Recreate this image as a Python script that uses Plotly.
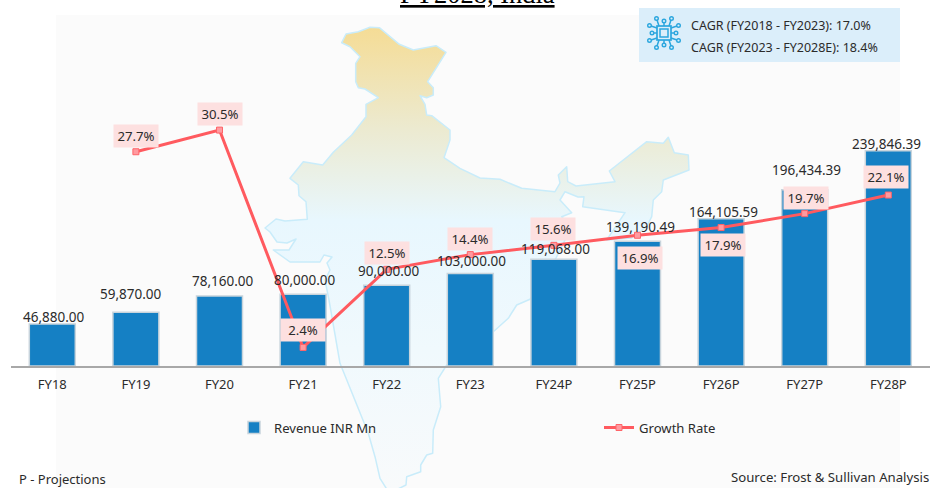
import base64
import plotly.graph_objects as go

categories = ["FY18", "FY19", "FY20", "FY21", "FY22", "FY23", "FY24P", "FY25P", "FY26P", "FY27P", "FY28P"]
revenue = [46880.00, 59870.00, 78160.00, 80000.00, 90000.00, 103000.00, 119068.00, 139190.49, 164105.59, 196434.39, 239846.39]
growth = [None, 27.7, 30.5, 2.4, 12.5, 14.4, 15.6, 16.9, 17.9, 19.7, 22.1]
cagr_lines = ["CAGR (FY2018 - FY2023): 17.0%", "CAGR (FY2023 - FY2028E): 18.4%"]

# label placement relative to each mark, in pixels (dx, dy up)
rev_offsets = [(2, 7), (-5, 18), (3, 15), (2, 14), (2, 14), (1, 13), (2, 10), (3, 14), (2, 7), (2, 20), (-2, 7)]
gr_offsets = [None, (0, 16), (0, 16), (0, 17), (0, 16), (0, 16), (-1, 16), (2, -23), (2, -17), (1, 16), (-2, 18.5)]

W, H = 931, 488
BASE_Y, TOP_Y = 366, 60
LEFT, RIGHT = 10.5, 930.1

india = [(341.7,42.7),(346,34),(358.3,31.7),(370,27.3),(379.3,27.7),(399.3,44.3),(413.3,50),(436,45.7),(446,52.3),
 (427.7,81.7),(433.3,87.7),(433.3,95),(426.7,97.7),(420,95.7),(425,104.3),(426.7,115),(431.7,115.7),(450,130),(450,140),
 (444,157.7),(450,161.7),(460,168.3),(480,178),(500,179.3),(521.7,188.3),(555,191.7),(560,183),(558.3,175),(566.7,166.7),
 (567.7,181.7),(576,186),(615,181.7),(609.3,171),(646.7,141.7),(663.3,143.3),(668.3,137.3),(674.3,152.7),(688.3,155),
 (689,170),(663.3,180),(661.7,191.7),(653.3,200),(651.7,216.7),(646.7,226.7),(631.7,238),(606.7,240),(625,212.7),
 (582.7,206.7),(584,196.7),(578,197),(565,191.7),(560,200),(571.7,212.7),(561.7,216.7),(571.7,226.7),(550,270),(530,299.3),
 (516.7,305),(508.3,318.3),(493.3,331.7),(446.7,365),(438.3,378.3),(440.7,406.7),(433.3,430),(432.7,453.3),(426.7,455),
 (420.7,465),(420.7,471.7),(406.7,476.7),(406,485),(398,489),(386.7,489),(380,478.3),(375,456.7),(368.3,433.3),(340,363.3),
 (329,300),(325,280),(330,270),(327,263),(332,257),(324,255),(320,262),(290,262),(273.3,250),(289,250),(296,239),(287,243),
 (277,242),(270,232),(265,228),(276,219),(285,221),(307.3,219.3),(306,201.7),(299,195.7),(298.3,185),(290,178.3),(303.3,161.7),
 (322.7,165),(333.3,152.3),(351.7,135),(366,116.7),(366,104.3),(378.3,97.7),(365,89),(358.3,87.7),(355.7,81.7),(355.7,63.3),
 (360,56.7),(350,46.7)]
pts = " ".join(f"{a},{b}" for a, b in india)
bg_svg = f'''<svg xmlns="http://www.w3.org/2000/svg" width="{W}" height="{H}" viewBox="0 0 {W} {H}">
<defs><linearGradient id="g" gradientUnits="userSpaceOnUse" x1="0" y1="27" x2="0" y2="488">
<stop offset="0" stop-color="#f5dc95"/><stop offset="0.22" stop-color="#ecead0"/><stop offset="0.42" stop-color="#e8f7fe"/>
<stop offset="0.7" stop-color="#f0f9fd"/><stop offset="1" stop-color="#f8fafb"/></linearGradient></defs>
<rect x="56" y="15" width="844" height="473" fill="#fbfbfb"/>
<polygon points="{pts}" fill="url(#g)" stroke="#c9ecfa" stroke-width="1.5" stroke-linejoin="round"/>
</svg>'''

cx, cy = 24, 25
ICON = "#2ba6de"
parts = [f'<rect x="{cx-7}" y="{cy-7}" width="14" height="14" fill="none" stroke="{ICON}" stroke-width="1.7"/>',
         f'<rect x="{cx-4}" y="{cy-4}" width="8" height="8" fill="none" stroke="{ICON}" stroke-width="1.5"/>']
for o, l in [(-5, 14.5), (0, 12), (5, 14.5)]:
    for s in (-1, 1):
        for (x1, y1, x2, y2) in [(cx+o, cy+s*7, cx+o*1.5, cy+s*l), (cx+s*7, cy+o, cx+s*l, cy+o*1.5)]:
            parts.append(f'<line x1="{x1}" y1="{y1}" x2="{x2}" y2="{y2}" stroke="{ICON}" stroke-width="1.5"/>')
            parts.append(f'<circle cx="{x2}" cy="{y2}" r="1.8" fill="#dbeefa" stroke="{ICON}" stroke-width="1.4"/>')
icon_svg = f'<svg xmlns="http://www.w3.org/2000/svg" width="52" height="52" viewBox="0 0 52 52">{"".join(parts)}</svg>'

def uri(s):
    return "data:image/svg+xml;base64," + base64.b64encode(s.encode()).decode()

FONT = "Noto Sans"
TXT = "#2b2b2b"

fig = go.Figure()
fig.add_trace(go.Bar(x=list(range(len(categories))), y=revenue, name="Revenue INR Mn", width=0.55, legend="legend",
                     marker=dict(color="#1580c4", line=dict(color="#c8d4dc", width=1.5))))
fig.add_trace(go.Scatter(x=list(range(len(categories))), y=growth, name="Growth Rate", yaxis="y2", mode="lines+markers",
                         legend="legend2", line=dict(color="#ff5a5f", width=3),
                         marker=dict(symbol="square", size=6, color="#ff9aa0", line=dict(color="#ff6468", width=1))))

annots = []
for i, v in enumerate(revenue):
    dx, dy = rev_offsets[i]
    annots.append(dict(x=i, y=v, xref="x", yref="y", text=f"{v:,.2f}", showarrow=False, xshift=dx, yshift=dy,
                       xanchor="center", yanchor="middle", font=dict(family=FONT, size=13.5, color=TXT)))
for i, v in enumerate(growth):
    if v is None:
        continue
    dx, dy = gr_offsets[i]
    annots.append(dict(x=i, y=v, xref="x", yref="y2", text=f"{v:.1f}%", showarrow=False, xshift=dx, yshift=dy,
                       xanchor="center", yanchor="middle", width=44, height=22, borderpad=0, align="center",
                       bgcolor="#fde0e0", font=dict(family=FONT, size=13.2, color=TXT)))

def px(x, y):
    return dict(x=x / W, y=1 - y / H, xref="paper", yref="paper", showarrow=False)

for line, yy in zip(cagr_lines, (25.7, 47.7)):
    annots.append(dict(**px(688.5, yy), text=line, xanchor="left", yanchor="middle",
                       font=dict(family=FONT, size=12.5, color=TXT)))
annots.append(dict(**px(17, 479), text="P - Projections", xanchor="left", yanchor="middle",
                   font=dict(family=FONT, size=13, color=TXT)))
annots.append(dict(**px(931, 477), text="Source: Frost &amp; Sullivan Analysis", xanchor="right", yanchor="middle",
                   font=dict(family=FONT, size=13.2, color=TXT)))
annots.append(dict(**px(477, -6.5), text="FY2028, India", xanchor="center", yanchor="middle",
                   font=dict(family="Liberation Serif", size=26.5, color="#000000", lineposition="under")))

legend_common = dict(orientation="h", yanchor="middle", xanchor="left", bgcolor="rgba(0,0,0,0)",
                     font=dict(family=FONT, size=13.1, color=TXT))

fig.update_layout(
    width=W, height=H, autosize=False,
    margin=dict(l=0, r=0, t=0, b=0, pad=0),
    paper_bgcolor="#ffffff", plot_bgcolor="rgba(0,0,0,0)",
    showlegend=True, bargap=0.45,
    legend=dict(x=234 / W, y=1 - 428 / H, **legend_common),
    legend2=dict(x=599 / W, y=1 - 428 / H, **legend_common),
    xaxis=dict(domain=[LEFT / W, RIGHT / W], range=[-0.5, 10.5], tickmode="array", tickvals=list(range(len(categories))),
               ticktext=categories, showgrid=False, zeroline=False, showline=True, linecolor="#a8a8a8", linewidth=2,
               ticks="outside", ticklen=5, tickcolor="rgba(0,0,0,0)", tickfont=dict(family=FONT, size=13, color=TXT)),
    yaxis=dict(domain=[1 - BASE_Y / H, 1 - TOP_Y / H], range=[0, (BASE_Y - TOP_Y) / 0.000897], visible=False),
    yaxis2=dict(domain=[1 - BASE_Y / H, 1 - TOP_Y / H], range=[0, (BASE_Y - TOP_Y) / 7.735], overlaying="y", side="right",
                visible=False),
    annotations=annots,
    shapes=[dict(type="rect", xref="paper", yref="paper", x0=639 / W, x1=900 / W, y0=1 - 62 / H, y1=1 - 8 / H,
                 fillcolor="#dbeefa", line=dict(width=0), layer="below")],
    images=[
        dict(source=uri(bg_svg), xref="paper", yref="paper", x=0, y=1, sizex=1, sizey=1, xanchor="left", yanchor="top",
             sizing="stretch", layer="below"),
        dict(source=uri(icon_svg), xref="paper", yref="paper", x=640 / W, y=1 - 8 / H, sizex=52 / W, sizey=52 / H,
             xanchor="left", yanchor="top", sizing="stretch", layer="above"),
    ],
)

fig.write_html("out.html", config={"displayModeBar": False},
               post_script="document.body.style.margin='0';document.documentElement.style.overflow='hidden';")
